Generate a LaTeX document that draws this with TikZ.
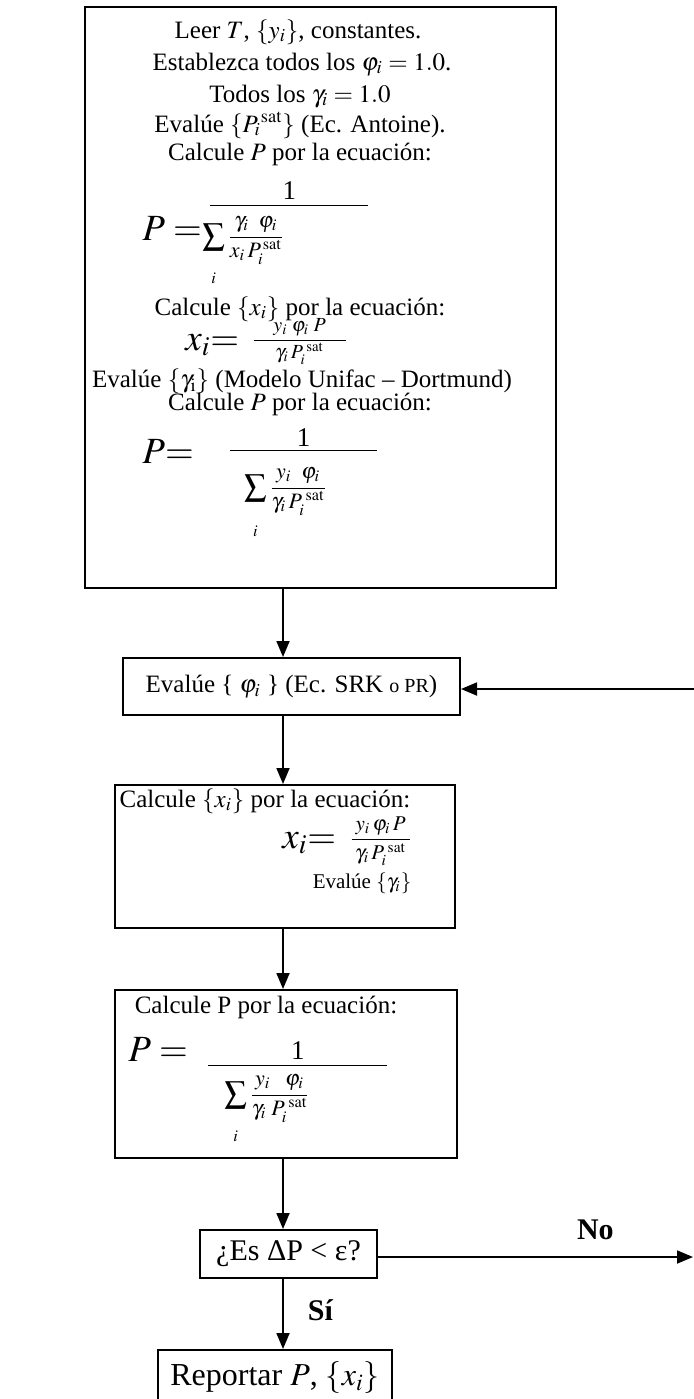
\documentclass[tikz,border=0pt]{standalone}
\usepackage{amsmath}
\usepackage{mathptmx}
\usepackage{fontspec}
\setmainfont{Liberation Serif}
\usepackage{tikz}
\usetikzlibrary{arrows.meta, positioning}
\newcommand{\setsz}[1]{\fontsize{#1}{#1}\selectfont}
\newcommand{\satsup}{\mathrm{sat}}

\begin{document}
\begin{tikzpicture}[x=0.5pt, y=-0.5pt, >={Triangle[length=8pt,width=6.5pt]},
        box/.style={draw, line width=1pt, inner sep=0pt},
        txt/.style={inner sep=0pt, anchor=base, font=\setsz{12.5}},
        eqn/.style={inner sep=0pt, anchor=base west, font=\setsz{13.5}},
        flow/.style={->, line width=0.9pt},
        answer/.style={inner sep=0pt, font=\setsz{15}\bfseries}
    ]
        \useasboundingbox (0,0) rectangle (694,1399);
        \clip (0,0) rectangle (694,1399);

        % Boxes
        \node [box, minimum width=235.5pt, minimum height=290.5pt] (init) at (320.5,297.5) {};
        \node [box, minimum width=168.5pt, minimum height=28.5pt, font=\setsz{12.5}] (phi) at (291.5,686.5) {Evalúe \{ $\varphi_i$ \} (Ec. SRK {\setsz{10}o PR})};
        \node [box, minimum width=170pt, minimum height=71.5pt] (xcalc) at (285,856.5) {};
        \node [box, minimum width=171pt, minimum height=84pt] (pcalc) at (286,1074) {};
        \node [box, minimum width=88.5pt, minimum height=24pt, font=\setsz{15}] (check) at (288.5,1254) {¿Es ΔP < ε?};
        \node [box, minimum width=117pt, minimum height=28pt, font=\setsz{16}] (report) at (275,1378) {Reportar $P$, $\{x_i\}$};

        % Initial block
        \node [txt] (read) at (298,38) {Leer $T$, $\{y_i\}$, constantes.};
        \node [txt] (setphi) at (302,70) {Establezca todos los $\varphi_i = 1.0$.};
        \node [txt] (setgam) at (300,102) {Todos los $\gamma_i = 1.0$};
        \node [txt] (antoine) at (300,132) {Evalúe $\{P_i{}^{\satsup}\}$ (Ec. Antoine).};
        \node [txt] (calcp) at (300,160) {Calcule $P$ por la ecuación:};
        \node [eqn] (eqp) at (142,212) {$\raisebox{-14pt}{\setsz{18.5}$P=$}\hspace{3pt}\dfrac{\raisebox{-3pt}{1}}{\makebox[79pt][l]{\hspace{-4pt}\raisebox{-6pt}{\setsz{11}$\displaystyle\sum\limits_{\raisebox{-10pt}{$\scriptstyle i$}}\frac{\gamma_i\;\;\varphi_i}{x_i\,P_i^{\,\satsup}}$}}}$};
        \node [txt] (calcx) at (300,315) {Calcule $\{x_i\}$ por la ecuación:};
        \node [eqn, font=\setsz{10}] (eqx) at (185,345) {$\raisebox{-2.5pt}{\setsz{18.5}$x_i{=}$}\hspace{6pt}\dfrac{\makebox[46pt]{$y_i\;\varphi_i\;P$}}{\gamma_i\,P_i^{\;\satsup}}$};
        \node [txt] (unifac) at (302,387) {Evalúe $\{\gamma_{\mathrm{i}}\}$ (Modelo Unifac -- Dortmund)};
        \node [txt] (calcpb) at (300,410) {Calcule $P$ por la ecuación:};
        \node [eqn] (eqpb) at (142,457) {$\raisebox{-3pt}{\setsz{18.5}$P{=}$}\hspace{17pt}\dfrac{\raisebox{-4pt}{1}}{\makebox[73.5pt][l]{\hspace{7pt}\raisebox{-9pt}{\setsz{11}$\displaystyle\sum\limits_{\raisebox{-11pt}{$\scriptstyle i$}}\frac{y_i\;\;\varphi_i}{\gamma_i\,P_i^{\;\satsup}}$}}}$};

        % Loop: x and gamma
        \node [txt] (calcxb) at (265,807) {Calcule $\{x_i\}$ por la ecuación:};
        \node [eqn, font=\setsz{10.5}] (eqxb) at (282,845) {$\raisebox{-1.5pt}{\setsz{18.5}$x_i{=}$}\hspace{6.5pt}\dfrac{\makebox[29pt]{$y_i\,\varphi_i\,P$}}{\gamma_i\,P_i^{\;\satsup}}$};
        \node [txt, font=\setsz{10.5}] (gam) at (362,888) {Evalúe $\{\gamma_i\}$};

        % Loop: P
        \node [txt] (calcpc) at (266,1013) {Calcule P por la ecuación:};
        \node [eqn] (eqpc) at (128,1072) {$\raisebox{5.5pt}{\setsz{18.5}$P=$}\hspace{9pt}\dfrac{\raisebox{-3pt}{1}}{\makebox[89.5pt][l]{\hspace{8pt}\raisebox{-5pt}{\setsz{11}$\displaystyle\sum\limits_{\raisebox{-10pt}{$\scriptstyle i$}}\frac{y_i\;\;\;\varphi_i}{\gamma_i\;P_i^{\;\satsup}}$}}}$};

        % Connectors
        \coordinate (axis) at (283,0);
        \coordinate (loopin) at (694,689);
        \coordinate (loopout) at (693,1257);
        \draw [flow] (init.south -| axis) -- (phi.north -| axis);
        \draw [flow] (phi.south -| axis) -- (xcalc.north -| axis);
        \draw [flow] (xcalc.south -| axis) -- (pcalc.north -| axis);
        \draw [flow] (pcalc.south -| axis) -- (check.north -| axis);
        \draw [flow] (check.south -| axis) -- node [answer, pos=0.44, right=12pt] (yes) {Sí} (report.north -| axis);
        \draw [flow] (check.east |- loopout) -- node [answer, pos=0.69, above=8pt] (no) {No} (loopout);
        \draw [flow] (loopin) -- (phi.east |- loopin);
    \end{tikzpicture}
\end{document}
